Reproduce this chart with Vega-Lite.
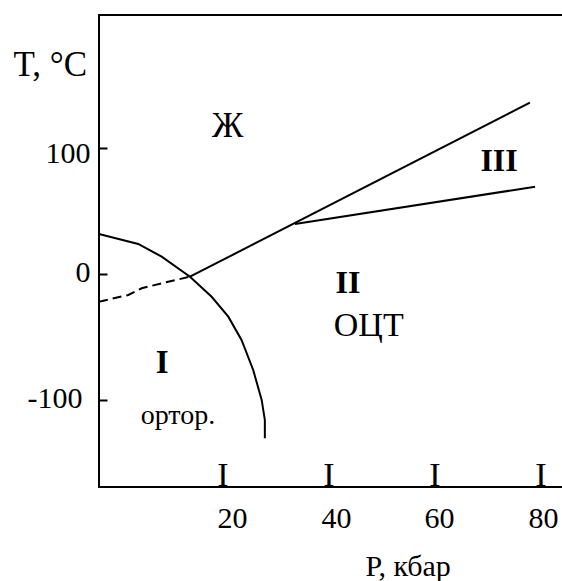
{
  "$schema": "https://vega.github.io/schema/vega-lite/v6.json",
  "width": 470,
  "height": 472,
  "autosize": {"type": "none"},
  "padding": {"left": 99, "top": 15, "right": 0, "bottom": 94},
  "background": "white",
  "config": {
    "view": {"stroke": "black", "strokeWidth": 2},
    "font": "Liberation Serif",
    "axis": {"grid": false, "domain": false, "labelFont": "Liberation Serif", "titleFont": "Liberation Serif", "labelColor": "black", "titleColor": "black", "titleFontWeight": "normal"}
  },
  "encoding": {
    "x": {"field": "p", "type": "quantitative", "scale": {"domain": [-3.4, 85.3], "nice": false, "zero": false},
      "axis": {"values": [20, 40, 60, 80], "ticks": false, "labelFontSize": 30, "labelPadding": 16,
        "labelOffset": {"condition": [{"test": "datum.value == 20", "value": 9}, {"test": "datum.value == 40", "value": 7}, {"test": "datum.value == 60", "value": 4}], "value": 2},
        "title": "Р, кбар", "titleFontSize": 30, "titleAlign": "left", "titleBaseline": "middle", "titleX": 266, "titleY": 79}},
    "y": {"field": "T", "type": "quantitative", "scale": {"domain": [-169.3, 205.3], "nice": false, "zero": false},
      "axis": {"values": [-100, 0, 100], "tickSize": -8, "tickWidth": 2, "tickColor": "black", "labelFontSize": 30,
        "labelPadding": {"condition": {"test": "datum.value < 0", "value": 25}, "value": 17},
        "labelOffset": {"condition": {"test": "datum.value > 50", "value": 6}, "value": -1},
        "labelExpr": "datum.value < 0 ? '-' + format(-datum.value, 'd') : datum.label",
        "title": "T, °C", "titleFontSize": 35, "titleAngle": 0, "titleAlign": "left", "titleBaseline": "middle", "titleX": -86, "titleY": 49}}
  },
  "layer": [
    {
      "data": {"values": [
        {"i": 0, "p": -3.4, "T": 31.5},
        {"i": 1, "p": 4.0, "T": 23.6},
        {"i": 2, "p": 8.43, "T": 13.5},
        {"i": 3, "p": 13.77, "T": -2.4},
        {"i": 4, "p": 17.86, "T": -18.3},
        {"i": 5, "p": 21.0, "T": -34.1},
        {"i": 6, "p": 23.5, "T": -52.6},
        {"i": 7, "p": 25.7, "T": -76.4},
        {"i": 8, "p": 27.3, "T": -100.2},
        {"i": 9, "p": 27.9, "T": -116.1},
        {"i": 10, "p": 27.9, "T": -130.6}
      ]},
      "mark": {"type": "line", "color": "black", "strokeWidth": 2},
      "encoding": {"order": {"field": "i", "type": "quantitative"}}
    },
    {
      "data": {"values": [
        {"i": 0, "p": -3.4, "T": -22.2},
        {"i": 1, "p": 2.13, "T": -16.9},
        {"i": 2, "p": 4.66, "T": -11.6},
        {"i": 3, "p": 8.43, "T": -7.6},
        {"i": 4, "p": 13.77, "T": -2.4}
      ]},
      "mark": {"type": "line", "color": "black", "strokeWidth": 2, "strokeDash": [9, 5]},
      "encoding": {"order": {"field": "i", "type": "quantitative"}}
    },
    {
      "data": {"values": [
        {"i": 0, "p": 13.77, "T": -2.4},
        {"i": 1, "p": 77.92, "T": 135.7}
      ]},
      "mark": {"type": "line", "color": "black", "strokeWidth": 2},
      "encoding": {"order": {"field": "i", "type": "quantitative"}}
    },
    {
      "data": {"values": [
        {"i": 0, "p": 33.58, "T": 39.4},
        {"i": 1, "p": 78.9, "T": 69.0}
      ]},
      "mark": {"type": "line", "color": "black", "strokeWidth": 2},
      "encoding": {"order": {"field": "i", "type": "quantitative"}}
    },
    {
      "data": {"values": [
        {"p": 20, "T": -169.3}, {"p": 40, "T": -169.3}, {"p": 60, "T": -169.3}, {"p": 80, "T": -169.3}
      ]},
      "mark": {"type": "text", "text": "I", "fontSize": 34, "font": "Liberation Serif", "baseline": "alphabetic", "align": "center", "dy": -1, "color": "black"}
    },
    {
      "data": {"values": [
        {"p": 20.9, "T": 117.2, "label": "Ж", "size": 35},
        {"p": 47.5, "T": -41.5, "label": "ОЦТ", "size": 34},
        {"p": 11.5, "T": -112.9, "label": "ортор.", "size": 28}
      ]},
      "mark": {"type": "text", "font": "Liberation Serif", "baseline": "middle", "align": "center", "color": "black"},
      "encoding": {
        "text": {"field": "label"},
        "size": {"field": "size", "type": "quantitative", "scale": null, "legend": null}
      }
    },
    {
      "data": {"values": [
        {"p": 72.1, "T": 89.4, "label": "III", "size": 32},
        {"p": 43.6, "T": -7.4, "label": "II", "size": 32},
        {"p": 8.5, "T": -70.9, "label": "I", "size": 33}
      ]},
      "mark": {"type": "text", "font": "Liberation Serif", "fontWeight": "bold", "baseline": "middle", "align": "center", "color": "black"},
      "encoding": {
        "text": {"field": "label"},
        "size": {"field": "size", "type": "quantitative", "scale": null, "legend": null}
      }
    }
  ]
}
